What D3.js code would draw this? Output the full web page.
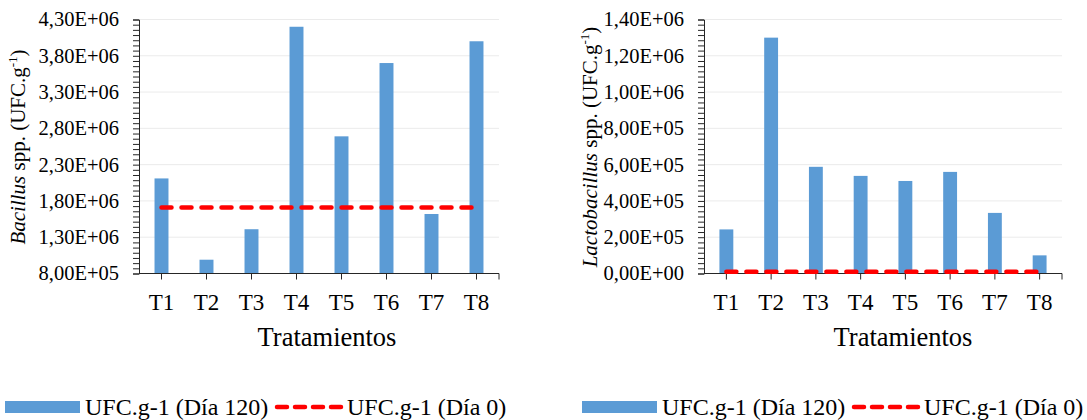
<!DOCTYPE html>
<html>
<head>
<meta charset="utf-8">
<script src="https://cdn.jsdelivr.net/npm/d3@7"></script>
</head>
<body style="margin:0; background:#fff">
<div id="root"></div>
<script>
// data
var treatments = ["T1", "T2", "T3", "T4", "T5", "T6", "T7", "T8"];

var bacillusDia120 = [2.11e6, 0.99e6, 1.41e6, 4.20e6, 2.69e6, 3.70e6, 1.62e6, 4.00e6];
var bacillusDia0 = [1.71e6, 1.71e6, 1.71e6, 1.71e6, 1.71e6, 1.71e6, 1.71e6, 1.71e6];
var bacillusTicks = [0.8e6, 1.3e6, 1.8e6, 2.3e6, 2.8e6, 3.3e6, 3.8e6, 4.3e6];

var lactoDia120 = [2.43e5, 1.30e6, 5.88e5, 5.38e5, 5.10e5, 5.60e5, 3.34e5, 1.00e5];
var lactoDia0 = [1.0e4, 1.0e4, 1.0e4, 1.0e4, 1.0e4, 1.0e4, 1.0e4, 1.0e4];
var lactoTicks = [0, 2e5, 4e5, 6e5, 8e5, 1.0e6, 1.2e6, 1.4e6];

var seriesNames = ["UFC.g-1 (Día 120)", "UFC.g-1 (Día 0)"];

var barColor = "#5b9bd5";
var lineColor = "#ff0000";
var font = "'Liberation Serif', 'Times New Roman', serif";

var svg = d3.select("#root")
    .append("svg")
    .attr("width", 1087)
    .attr("height", 420)
    .style("font-family", font);

// Excel style number format: 4,30E+06
function sci(v)
{
    var s = v.toExponential(2).split("e");
    var exp = +s[1];
    var sign = exp < 0 ? "-" : "+";
    var e = Math.abs(exp);
    return s[0].replace(".", ",") + "E" + sign + (e < 10 ? "0" + e : e);
}

function label(sel, size)
{
    return sel.append("text")
        .style("font-family", font)
        .style("font-size", size + "px")
        .attr("fill", "#000");
}

function chart(opts)
{
    var g = svg.append("g");

    var x = d3.scaleBand()
        .domain(treatments)
        .range([opts.left, opts.right])
        .paddingInner(0.69)
        .paddingOuter(0.345);

    var y = d3.scaleLinear()
        .domain(d3.extent(opts.ticks))
        .range([273.5, 19.5]);

    // gridlines
    g.selectAll(".grid")
        .data(opts.ticks.slice(1))
        .enter().append("line")
        .attr("x1", opts.left)
        .attr("x2", opts.right)
        .attr("y1", (d) => y(d))
        .attr("y2", (d) => y(d))
        .attr("stroke", "#ebebeb")
        .attr("stroke-width", 1);

    // bars
    g.selectAll(".bar")
        .data(opts.bars)
        .enter().append("rect")
        .attr("x", (d, i) => x(treatments[i]))
        .attr("y", (d) => y(d))
        .attr("width", x.bandwidth())
        .attr("height", (d) => y(y.domain()[0]) - y(d))
        .attr("fill", barColor);

    // y axis with minor ticks
    var step = opts.ticks[1] - opts.ticks[0];
    var minor = d3.range(y.domain()[0], y.domain()[1] + step / 14, step / 7);
    var yAxis = d3.axisLeft(y)
        .tickValues(minor)
        .tickSize(6)
        .tickFormat("");
    var ya = g.append("g")
        .attr("transform", "translate(" + opts.left + ",0)")
        .call(yAxis);
    ya.select(".domain").attr("stroke", "#262626");
    ya.selectAll(".tick line").attr("stroke", "#262626");

    opts.ticks.forEach(function (d)
    {
        label(g, 20.5)
            .attr("x", opts.left - 20)
            .attr("y", y(d))
            .attr("dy", "0.34em")
            .attr("text-anchor", "end")
            .text(sci(d));
    });

    // x axis
    var xa = g.append("g")
        .attr("transform", "translate(0," + y(y.domain()[0]) + ")");
    xa.append("line")
        .attr("x1", opts.left)
        .attr("x2", opts.right)
        .attr("stroke", "#262626");
    xa.selectAll(".xt")
        .data(treatments.concat(["end"]))
        .enter().append("line")
        .attr("x1", (d) => d == "end" ? opts.right : x(d) + x.bandwidth() / 2)
        .attr("x2", (d) => d == "end" ? opts.right : x(d) + x.bandwidth() / 2)
        .attr("y1", 0)
        .attr("y2", 6)
        .attr("stroke", "#262626");
    treatments.forEach(function (d)
    {
        label(xa, 23)
            .attr("x", x(d) + x.bandwidth() / 2)
            .attr("y", 36)
            .attr("text-anchor", "middle")
            .text(d);
    });

    label(g, 26.5)
        .attr("x", opts.titleX)
        .attr("y", 346)
        .attr("text-anchor", "middle")
        .text("Tratamientos");

    // day 0 line
    g.append("path")
        .datum(opts.line)
        .attr("fill", "none")
        .attr("stroke", lineColor)
        .attr("stroke-width", 4.5)
        .attr("stroke-linecap", "round")
        .attr("stroke-dasharray", "10,10")
        .attr("d", d3.line()
            .x((d, i) => x(treatments[i]) + x.bandwidth() / 2)
            .y((d) => y(d)));

    // y axis title
    var yt = label(g, 21)
        .attr("transform", "translate(" + opts.ytitleX + ",147) rotate(-90)")
        .attr("text-anchor", "middle");
    yt.append("tspan").style("font-style", "italic").text(opts.genus);
    yt.append("tspan").text(" spp. (UFC.g");
    yt.append("tspan").attr("dy", -8).style("font-size", "13px").text("-1");
    yt.append("tspan").attr("dy", 8).text(")");

    // legend
    g.append("rect")
        .attr("x", opts.legendX)
        .attr("y", 401)
        .attr("width", 75)
        .attr("height", 12)
        .attr("fill", barColor);
    label(g, 24)
        .attr("x", opts.legendX + 80)
        .attr("y", 415)
        .text(seriesNames[0]);
    g.append("line")
        .attr("x1", opts.legendX + 272)
        .attr("x2", opts.legendX + 337)
        .attr("y1", 407)
        .attr("y2", 407)
        .attr("stroke", lineColor)
        .attr("stroke-width", 4.5)
        .attr("stroke-linecap", "round")
        .attr("stroke-dasharray", "10,8");
    label(g, 24)
        .attr("x", opts.legendX + 342)
        .attr("y", 415)
        .text(seriesNames[1]);
}

chart({
    left: 139, right: 499, ticks: bacillusTicks,
    bars: bacillusDia120, line: bacillusDia0,
    genus: "Bacillus", ytitleX: 25, titleX: 327, legendX: 5
});

chart({
    left: 704, right: 1062, ticks: lactoTicks,
    bars: lactoDia120, line: lactoDia0,
    genus: "Lactobacillus", ytitleX: 597, titleX: 903, legendX: 582
});
</script>
</body>
</html>
